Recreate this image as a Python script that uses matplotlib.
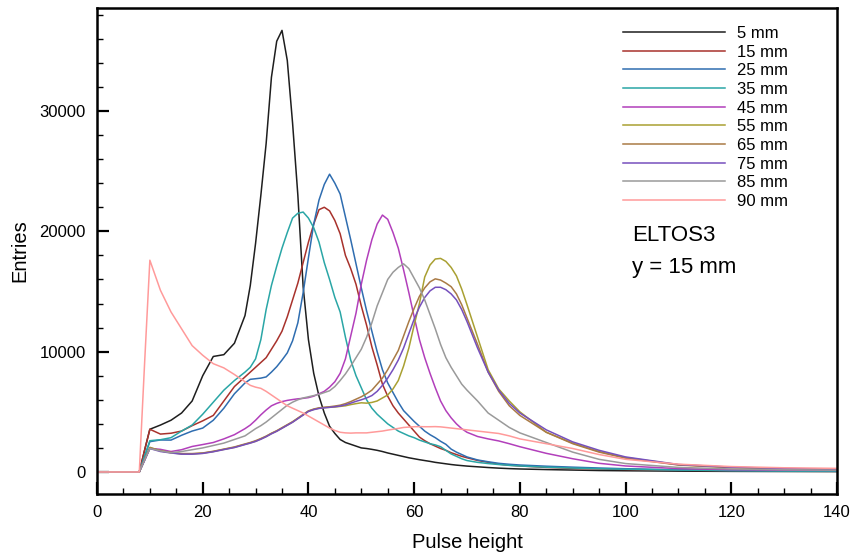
import matplotlib
matplotlib.use("Agg")
import matplotlib.pyplot as plt
from matplotlib.ticker import MultipleLocator

plt.rcParams['font.family'] = ['Liberation Sans', 'DejaVu Sans']

# Pulse height grid
pulse = [0, 8, 9, 10, 12, 14, 16, 18, 20, 22, 24, 26,
         28, 29, 30, 31, 32, 33, 34, 35, 36, 37, 38, 39, 40, 41, 42, 43, 44, 45,
         46, 47, 48, 49, 50, 51, 52, 53, 54, 55, 56, 57, 58, 59, 60, 61, 62, 63,
         64, 65, 66, 67, 68, 69, 70, 72, 74, 76, 78, 80, 85, 90, 95, 100, 110,
         120, 130, 140]

labels = ["5 mm", "15 mm", "25 mm", "35 mm", "45 mm", "55 mm", "65 mm",
          "75 mm", "85 mm", "90 mm"]

y05 = [0, 0, 1800, 3550, 3900, 4300, 4900, 5900, 8000, 9600, 9750, 10700,
       13000, 15500, 19000, 23000, 27300, 32800, 35800, 36700, 34200, 29000, 23000, 15400, 11000, 8200, 6300, 4900, 3800, 3200,
       2700, 2450, 2300, 2150, 2000, 1950, 1880, 1800, 1700, 1580, 1480, 1380, 1280, 1180, 1100, 1020, 950, 880,
       800, 740, 680, 620, 570, 530, 490, 430, 370, 320, 280, 250, 200, 160, 120, 100, 70,
       50, 40, 30]

y15 = [0, 0, 1800, 3550, 3150, 3220, 3400, 3850, 4250, 4700, 5900, 7100,
       7900, 8300, 8700, 9100, 9500, 10200, 10900, 11700, 12900, 14300, 15700, 17400, 19100, 20600, 21800, 22000, 21700, 20900,
       19800, 18000, 16900, 15600, 13800, 12200, 10400, 8900, 7300, 6300, 5500, 4900, 4400, 3900, 3400, 2900, 2600, 2350,
       2150, 1950, 1800, 1600, 1450, 1300, 1180, 960, 800, 650, 560, 500, 380, 300, 250, 210, 150,
       110, 80, 60]

y25 = [0, 0, 1300, 2520, 2660, 2650, 3050, 3400, 3650, 4300, 5300, 6500,
       7400, 7700, 7750, 7800, 7900, 8300, 8750, 9300, 9900, 10900, 12400, 14900, 17800, 20600, 22600, 23900, 24750, 24000,
       23100, 21200, 19300, 17300, 15300, 13400, 11700, 10000, 8500, 7400, 6600, 5800, 5100, 4650, 4200, 3800, 3400, 3100,
       2850, 2550, 2300, 1900, 1650, 1450, 1250, 1000, 850, 720, 640, 580, 480, 400, 330, 270, 180,
       120, 90, 70]

y35 = [0, 0, 1300, 2600, 2680, 2850, 3400, 3900, 4800, 5800, 6800, 7600,
       8300, 8700, 9400, 11000, 13500, 15500, 17100, 18600, 19900, 21100, 21500, 21600, 21100, 20300, 19100, 17400, 16000, 14500,
       13300, 11200, 9300, 8000, 7000, 6000, 5300, 4800, 4400, 4000, 3700, 3400, 3200, 3000, 2850, 2650, 2500, 2350,
       2250, 2100, 1800, 1500, 1300, 1100, 950, 800, 700, 620, 550, 500, 400, 330, 270, 230, 160,
       110, 80, 60]

y45 = [0, 0, 1000, 1970, 1880, 1700, 1850, 2120, 2280, 2450, 2750, 3100,
       3600, 3900, 4300, 4750, 5150, 5500, 5700, 5850, 5950, 6020, 6080, 6120, 6180, 6300, 6500, 6700, 7050, 7500,
       8200, 9400, 11300, 13200, 15600, 17600, 19300, 20600, 21350, 21000, 19900, 18600, 16800, 14900, 12900, 11000, 9500, 8200,
       7000, 5900, 5100, 4500, 4000, 3600, 3300, 2950, 2750, 2580, 2350, 2100, 1550, 1100, 720, 500, 280,
       190, 150, 130]

y55 = [0, 0, 1000, 2050, 1750, 1600, 1500, 1500, 1560, 1700, 1880, 2050,
       2300, 2420, 2550, 2750, 2950, 3200, 3400, 3650, 3900, 4150, 4450, 4750, 5050, 5200, 5300, 5350, 5380, 5400,
       5450, 5500, 5600, 5680, 5750, 5720, 5780, 5900, 6150, 6400, 6900, 7600, 8800, 10300, 12200, 14000, 16200, 17200,
       17700, 17750, 17500, 17000, 16300, 15200, 13900, 11200, 8500, 6900, 5900, 5000, 3300, 2400, 1700, 1200, 600,
       380, 280, 220]

y65 = [0, 0, 1000, 2000, 1780, 1620, 1530, 1530, 1580, 1720, 1900, 2080,
       2330, 2450, 2600, 2780, 2980, 3220, 3430, 3680, 3930, 4180, 4480, 4780, 5080, 5230, 5330, 5380, 5420, 5480,
       5550, 5680, 5850, 6050, 6250, 6500, 6800, 7300, 7800, 8500, 9300, 10100, 11300, 12500, 13600, 14600, 15300, 15800,
       16050, 15950, 15700, 15400, 14800, 13900, 12800, 10600, 8300, 6700, 5500, 4700, 3300, 2350, 1650, 1150, 580,
       360, 260, 200]

y75 = [0, 0, 950, 1950, 1700, 1580, 1480, 1480, 1540, 1680, 1860, 2030,
       2280, 2400, 2540, 2720, 2930, 3170, 3380, 3630, 3880, 4130, 4430, 4730, 5030, 5180, 5280, 5330, 5370, 5420,
       5480, 5580, 5720, 5870, 6000, 6150, 6350, 6700, 7200, 7800, 8500, 9300, 10300, 11500, 12700, 13700, 14500, 15050,
       15350, 15350, 15150, 14800, 14300, 13500, 12500, 10300, 8300, 6800, 5700, 4900, 3500, 2500, 1800, 1250, 620,
       400, 290, 230]

y85 = [0, 0, 1000, 1950, 1750, 1600, 1700, 1850, 2000, 2200, 2400, 2700,
       3000, 3300, 3600, 3850, 4150, 4500, 4850, 5200, 5550, 5800, 6000, 6150, 6250, 6350, 6450, 6600, 6750, 7100,
       7600, 8150, 8800, 9500, 10200, 11200, 12400, 13800, 14900, 16000, 16600, 17000, 17300, 16900, 16100, 15300, 14300, 13100,
       11900, 10600, 9500, 8700, 8000, 7300, 6800, 5900, 4900, 4300, 3700, 3250, 2450, 1650, 1050, 700, 380,
       250, 180, 150]

y90 = [0, 0, 9000, 17600, 15100, 13300, 11900, 10500, 9700, 9000, 8650, 8100,
       7500, 7200, 7050, 6950, 6700, 6400, 6100, 5800, 5500, 5300, 5100, 4900, 4650, 4400, 4150, 3900, 3650, 3450,
       3300, 3250, 3230, 3250, 3250, 3250, 3300, 3350, 3400, 3480, 3550, 3620, 3700, 3730, 3760, 3770, 3760, 3760,
       3770, 3750, 3700, 3650, 3600, 3550, 3500, 3400, 3300, 3200, 3000, 2750, 2350, 1950, 1450, 1050, 650,
       450, 350, 300]

series = [y05, y15, y25, y35, y45, y55, y65, y75, y85, y90]
colors = ['#1e1e1e', '#a8322c', '#2f6db0', '#2aa6a6', '#b23fbb', '#a9a032',
          '#a97a45', '#7650bd', '#9a9a9a', '#ff9a9a']

fig = plt.figure(figsize=(8.52, 5.54), dpi=100)
ax = fig.add_axes([97/852, 60/554, 740/852, 486/554])

for ys, c, lab in zip(series, colors, labels):
    ax.plot(pulse, ys, color=c, lw=1.1, label=lab)

ax.set_xlim(0, 140)
ax.set_ylim(-1830, 38560)
ax.xaxis.set_major_locator(MultipleLocator(20))
ax.xaxis.set_minor_locator(MultipleLocator(5))
ax.yaxis.set_major_locator(MultipleLocator(10000))
ax.yaxis.set_minor_locator(MultipleLocator(2000))
ax.tick_params(which='both', direction='in', top=False, right=False, labelsize=12)
ax.tick_params(which='major', length=8.5, width=1.6, pad=8)
ax.tick_params(which='minor', length=4, width=1.0)
for s in ax.spines.values():
    s.set_linewidth(1.8)

ax.set_xlabel("Pulse height", fontsize=14.5, labelpad=9)
ax.set_ylabel("Entries", fontsize=14.5, labelpad=7)

leg = ax.legend(loc='upper left', bbox_to_anchor=(0.711, 0.963), frameon=False,
                fontsize=12, handlelength=6.1, handletextpad=0.75,
                labelspacing=0.22, borderpad=0, borderaxespad=0)

ax.text(0.723, 0.531, "ELTOS3", transform=ax.transAxes, fontsize=16,
        va='center', ha='left')
ax.text(0.723, 0.466, "y = 15 mm", transform=ax.transAxes, fontsize=16,
        va='center', ha='left')

fig.savefig("out.png", dpi=100)
